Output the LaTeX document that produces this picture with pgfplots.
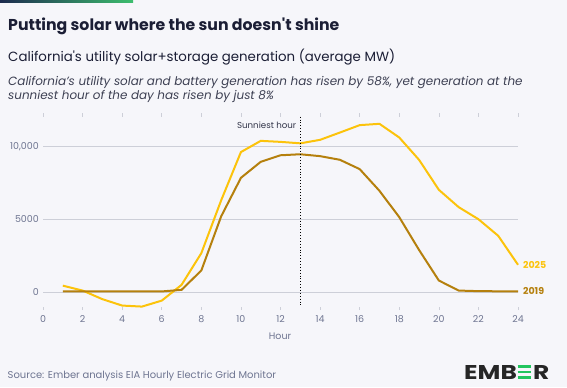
\documentclass[border=0pt]{standalone}
\usepackage{pgfplots}
\pgfplotsset{compat=1.18}
\usepackage{fontspec}
\setmainfont{Poppins}
\definecolor{bg}{HTML}{F6F6FA}
\definecolor{sun}{HTML}{FCC30B}
\definecolor{dbrown}{HTML}{B5800D}
\definecolor{tickc}{HTML}{6E7591}
\definecolor{gridc}{HTML}{CDCFD8}
\definecolor{navy}{HTML}{1B1E35}
\definecolor{barA}{HTML}{1D2B4F}
\definecolor{barB}{HTML}{3DBE6E}
\definecolor{embg}{HTML}{22C55E}
\pgfplotstableread{
h v
1 450
2 110
3 -480
4 -920
5 -990
6 -580
7 500
8 2680
9 6300
10 9620
11 10390
12 10320
13 10220
14 10460
15 10960
16 11470
17 11560
18 10620
19 9090
20 7030
21 5840
22 5010
23 3870
24 1880
}\twentyfive
\pgfplotstableread{
h v
1 50
2 50
3 50
4 50
5 50
6 50
7 160
8 1490
9 5200
10 7850
11 8950
12 9400
13 9470
14 9340
15 9090
16 8450
17 6960
18 5150
19 2900
20 800
21 110
22 70
23 60
24 60
}\twentynineteen
\begin{document}
\begin{tikzpicture}[x=1bp,y=1bp]
\fill[bg] (0,0) rectangle (567,-387);
\useasboundingbox (0,0) rectangle (567,-387);
\shade[left color=barA, right color=barB] (0,0) rectangle (133,-2.5);
\node[anchor=base west, inner sep=0, text=navy, font=\fontsize{15.8}{18}\selectfont\bfseries] at (8,-30.5) {Putting solar where the sun doesn\textquotesingle t shine};
\node[anchor=base west, inner sep=0, text=navy, font=\fontsize{13.4}{15}\selectfont] at (8,-61) {California\textquotesingle s utility solar+storage generation (average MW)};
\node[anchor=base west, inner sep=0, text=navy!85, font=\fontsize{12}{14}\selectfont\itshape] at (8,-85) {California's utility solar and battery generation has risen by 58\%, yet generation at the};
\node[anchor=base west, inner sep=0, text=navy!85, font=\fontsize{12}{14}\selectfont\itshape] at (8,-99.5) {sunniest hour of the day has risen by just 8\%};
\begin{axis}[at={(43bp,-314bp)}, anchor=south west, scale only axis,
  width=475bp, height=196.6bp,
  xmin=0, xmax=24, ymin=-1500, ymax=12000,
  axis line style={draw=none},
  scaled y ticks=false,
  xtick={0,2,...,24}, ytick={0,5000,10000}, yticklabels={0,5000,{10,000}},
  ymajorgrids, grid style={gridc, line width=1.3pt},
  /pgf/number format/assume math mode=true,
  tick label style={tickc, font=\fontsize{9.5}{11}\selectfont},
  yticklabel style={inner sep=0pt, xshift=-4bp},
  xticklabel style={inner sep=0pt, yshift=-1.5bp},
  xtick style={draw=gridc, line width=0.6pt, yshift=4bp}, ytick style={draw=none},
  tick align=inside, major tick length=3.5bp,
  clip=false]
\addplot[sun, line width=2bp] table[x=h,y=v] {\twentyfive};
\addplot[dbrown, line width=2bp] table[x=h,y=v] {\twentynineteen};
\draw[black, dotted, line width=0.9pt] (axis cs:13,12050) -- (axis cs:13,-1000);
\node[anchor=east, inner sep=0, font=\fontsize{8.7}{10}\selectfont, text=navy!90] at (axis cs:12.8,11450) {Sunniest hour};
\node[anchor=west, inner sep=0, font=\fontsize{9.5}{11}\selectfont\bfseries, text=sun] at (axis cs:24.25,1880) {2025};
\node[anchor=west, inner sep=0, font=\fontsize{9.5}{11}\selectfont\bfseries, text=dbrown] at (axis cs:24.25,60) {2019};
\end{axis}
\node[inner sep=0, text=tickc, font=\fontsize{9.5}{11}\selectfont] at (280,-336) {Hour};
\node[anchor=base west, inner sep=0, text=tickc, font=\fontsize{10}{12}\selectfont] at (7.5,-378) {Source: Ember analysis EIA Hourly Electric Grid Monitor};
\node[anchor=base west, inner sep=0, text=black!85, font=\fontsize{20}{22}\selectfont\bfseries] at (464,-379) {\scalebox{1.25}[1]{EMB\hspace{0.5bp}\textcolor{embg}{\rule[0bp]{11bp}{2.8bp}\llap{\rule[5.6bp]{11bp}{2.8bp}}\llap{\rule[11.2bp]{11bp}{2.8bp}}}\hspace{1.5bp}R}};
\end{tikzpicture}
\end{document}
